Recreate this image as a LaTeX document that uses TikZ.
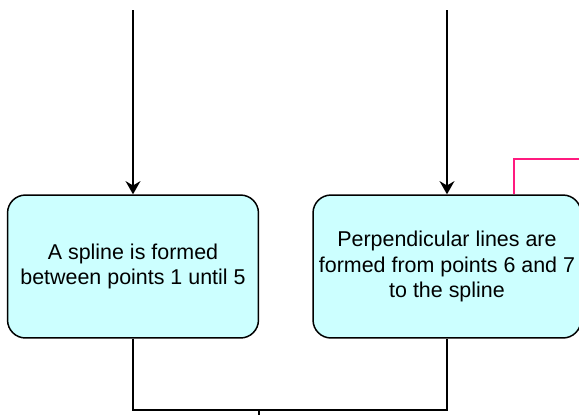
\documentclass[tikz,border=0pt]{standalone}
\usepackage{fontspec}
\setmainfont{Liberation Sans}
\usetikzlibrary{arrows.meta}
\definecolor{boxfill}{HTML}{CCFFFF}
\definecolor{linkpink}{HTML}{FF1A7F}
\tikzset{
  stepbox/.style={draw, line width=0.85pt, fill=boxfill, rounded corners=0.36cm,
    minimum height=2.86cm, align=center,
    font=\fontsize{12.2}{14.7}\selectfont},
  flow/.style={line width=0.85pt, -{Stealth[length=7.5pt,width=8.5pt,inset=2.5pt]}}
}
\begin{document}
\begin{tikzpicture}[x=0.02cm,y=-0.02cm]
      \useasboundingbox (0,0) rectangle (579,414);
      \node[stepbox, minimum width=5.02cm] (spline) at (133,266.5)
        {A spline is formed\\between points 1 until 5};
      \node[stepbox, minimum width=5.36cm] (perp) at (447,266.5)
        {Perpendicular lines are\\formed from points 6 and 7\\to the spline};
      \coordinate (inspline) at (133,10);
      \coordinate (inperp) at (447,10);
      \coordinate (pinkup) at (514,159);
      \coordinate (pinkend) at (600,159);
      \coordinate (join) at (259,410);
      \coordinate (joinout) at (259,430);
      \begin{scope}[flow]
        \draw (inspline) to (spline);
        \draw (inperp) to (perp);
      \end{scope}
      \begin{scope}[line width=0.85pt]
        \draw (spline.south) -- (spline.south |- join) -- (perp.south |- join) -- (perp.south);
        \draw (join) -- (joinout);
        \draw[linkpink] (pinkup |- perp.north) -- (pinkup) -- (pinkend);
      \end{scope}
    \end{tikzpicture}
\end{document}
